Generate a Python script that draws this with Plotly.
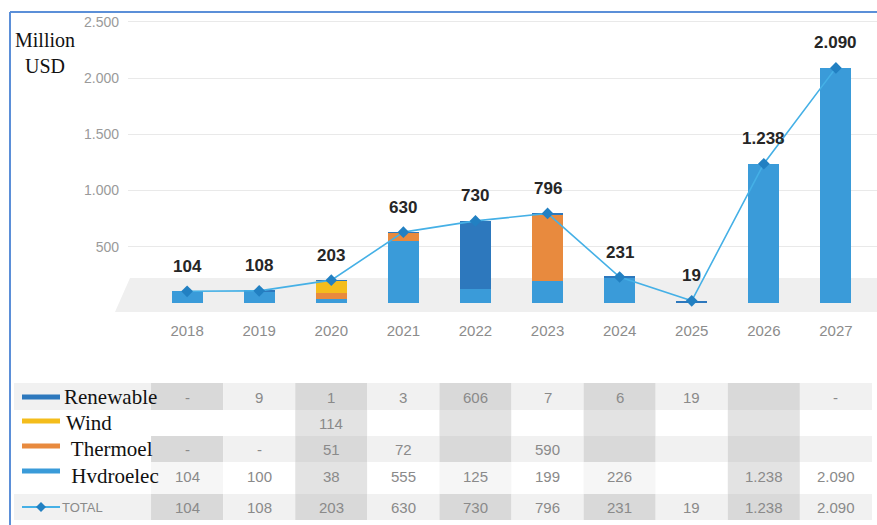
import plotly.graph_objects as go

# ---------------- data ----------------
years = ['2018', '2019', '2020', '2021', '2022', '2023', '2024', '2025', '2026', '2027']
renewable = [0, 9, 1, 3, 606, 7, 6, 19, None, 0]
wind = [None, None, 114, None, None, None, None, None, None, None]
thermo = [0, 0, 51, 72, None, 590, None, None, None, None]
hydro = [104, 100, 38, 555, 125, 199, 226, None, 1238, 2090]
total = [104, 108, 203, 630, 730, 796, 231, 19, 1238, 2090]
ytick_vals = [500, 1000, 1500, 2000, 2500]

series_names = ['Renewable', 'Wind', ' Thermoel', ' Hvdroelec']
series_vals = [renewable, wind, thermo, hydro]

# ---------------- style ----------------
W, H = 877, 525
C_REN = '#2d78bd'
C_WIND = '#f4bd1c'
C_THERMO = '#e88a3e'
C_HYDRO = '#3a9bd9'
C_LINE = '#45b0e6'
C_MARK = '#2280c2'
NARROW = 'Liberation Sans Narrow, Arial Narrow, Liberation Sans, Arial, sans-serif'
SERIF = 'Liberation Serif, Times New Roman, serif'
series_colors = [C_REN, C_WIND, C_THERMO, C_HYDRO]


def px(X):
    return X / W


def py(Y):
    return 1 - Y / H


def fmt(v):
    if v is None:
        return ''
    if v == 0:
        return '-'
    return f'{v:,}'.replace(',', '.')


fig = go.Figure()
for name, vals, col in [('Hydroelec', hydro, C_HYDRO), ('Thermoel', thermo, C_THERMO),
                        ('Wind', wind, C_WIND), ('Renewable', renewable, C_REN)]:
    fig.add_trace(go.Bar(x=years, y=vals, name=name, marker=dict(color=col, line=dict(width=0)),
                         width=0.43, showlegend=False, hoverinfo='skip'))

fig.add_trace(go.Scatter(x=years, y=total, mode='lines+markers', name='TOTAL',
                         line=dict(color=C_LINE, width=1.6),
                         marker=dict(symbol='diamond', size=9, color=C_MARK),
                         showlegend=False, hoverinfo='skip'))

annotations = []
for i, t in enumerate(total):
    annotations.append(dict(x=i, y=t, xref='x', yref='y', text='<b>' + fmt(t) + '</b>',
                            showarrow=False, yshift=25, xanchor='center', yanchor='middle',
                            font=dict(family=NARROW, size=17, color='#262626')))

shapes = []
# floor band
shapes.append(dict(type='path', xref='paper', yref='paper', layer='below',
                   path=f'M {px(115)},{py(312)} L {px(130)},{py(278)} L {px(877)},{py(278)} L {px(877)},{py(312)} Z',
                   fillcolor='#efefef', line=dict(width=0)))

# table
row_edges = [383, 410, 436, 462, 494, 520]
row_centers = [397, 423, 449, 476, 507]
LIGHT, DARK, MID, PALE = '#f1f1f1', '#d9d9d9', '#e3e3e3', '#f6f6f6'
cell_colors = [
    [DARK if i % 2 == 0 else LIGHT for i in range(10)],
    ['white' if i == 0 else (MID if i % 2 == 0 else 'white') for i in range(10)],
    [DARK if i % 2 == 0 else LIGHT for i in range(10)],
    [(MID if i in (2, 8) else PALE) if i % 2 == 0 else 'white' for i in range(10)],
    [DARK if i % 2 == 0 else LIGHT for i in range(10)],
]
row_texts = [[fmt(v) for v in vals] for vals in series_vals] + [[fmt(v) for v in total]]

for r in range(5):
    y0, y1 = row_edges[r], row_edges[r + 1]
    if r in (0, 4):
        shapes.append(dict(type='rect', xref='paper', yref='paper', layer='below',
                           x0=px(14), x1=px(155), y0=py(y1), y1=py(y0),
                           fillcolor=LIGHT, line=dict(width=0)))
    for i in range(10):
        shapes.append(dict(type='rect', xref='x', yref='paper', layer='below',
                           x0=i - 0.5, x1=i + 0.5, y0=py(y1), y1=py(y0),
                           fillcolor=cell_colors[r][i], line=dict(width=0)))
        if row_texts[r][i]:
            annotations.append(dict(x=i, y=py(row_centers[r]), xref='x', yref='paper',
                                    xanchor='center', yanchor='middle',
                                    text=row_texts[r][i], showarrow=False,
                                    font=dict(family=NARROW, size=15, color='#8a8a8a')))

# legend column
sw_y = [397, 421, 446, 471]
lab_x = [62, 64, 64, 64]
for k in range(4):
    shapes.append(dict(type='line', xref='paper', yref='paper', x0=px(22), x1=px(60),
                       y0=py(sw_y[k]), y1=py(sw_y[k]), line=dict(color=series_colors[k], width=5)))
    annotations.append(dict(x=px(lab_x[k]), y=py(row_centers[k]), xref='paper', yref='paper',
                            xanchor='left', yanchor='middle', text=series_names[k], showarrow=False,
                            font=dict(family=SERIF, size=21, color='#111111')))
shapes.append(dict(type='line', xref='paper', yref='paper', x0=px(22), x1=px(60),
                   y0=py(507), y1=py(507), line=dict(color=C_LINE, width=2)))
shapes.append(dict(type='path', xref='paper', yref='paper',
                   path=f'M {px(41)},{py(502)} L {px(46)},{py(507)} L {px(41)},{py(512)} L {px(36)},{py(507)} Z',
                   fillcolor=C_MARK, line=dict(width=0)))
annotations.append(dict(x=px(60), y=py(507), xref='paper', yref='paper', xanchor='left',
                        yanchor='middle', text='TOTAL', showarrow=False,
                        font=dict(family=NARROW, size=13, color='#8a8a8a')))

# y axis title
annotations.append(dict(x=px(45), y=py(53), xref='paper', yref='paper', text='Million<br>USD',
                        showarrow=False, align='center', xanchor='center', yanchor='middle',
                        font=dict(family=SERIF, size=20, color='#111111')))

# frame
shapes.append(dict(type='line', xref='paper', yref='paper', x0=px(10), x1=1, y0=py(12), y1=py(12),
                   line=dict(color='#5b8fd8', width=2)))
shapes.append(dict(type='line', xref='paper', yref='paper', x0=px(10), x1=px(10), y0=py(12), y1=0,
                   line=dict(color='#5b8fd8', width=2)))

s = 0.1125
zero_px = 303
plot_top, plot_bot = 14, 312
ymin = -(plot_bot - zero_px) / s
ymax = (zero_px - plot_top) / s

fig.update_layout(
    width=W, height=H, margin=dict(l=0, r=0, t=0, b=0),
    paper_bgcolor='white', plot_bgcolor='rgba(0,0,0,0)',
    barmode='stack', bargap=0.5, separators=',.',
    showlegend=False,
    xaxis=dict(domain=[128 / W, 1], range=[-0.82, 9.57], type='category',
               showgrid=False, zeroline=False, showline=False, ticks='',
               ticklabelstandoff=8,
               tickfont=dict(family=NARROW, size=15, color='#8c8c8c')),
    yaxis=dict(domain=[py(plot_bot), py(plot_top)], range=[ymin, ymax],
               tickvals=ytick_vals, tickformat=',d', showgrid=True, gridcolor='#e9e9e9', gridwidth=1,
               zeroline=False, showline=False, ticks='', ticklabelstandoff=8,
               tickfont=dict(family=NARROW, size=14, color='#9a9a9a')),
    shapes=shapes, annotations=annotations,
)

fig.write_html('out.html')
